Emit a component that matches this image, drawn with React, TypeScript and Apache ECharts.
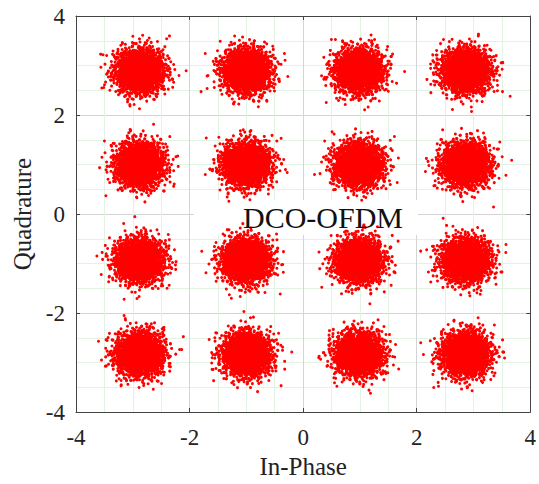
import React, { useEffect, useRef } from "react";
import * as echarts from "echarts";

// Constellation levels (16-QAM, DCO-OFDM)
const I_LEVELS = [-2.88, -1.0, 0.98, 2.86];
const Q_LEVELS = [2.89, 1.0, -0.94, -2.83];
// Spread of the received cloud around each symbol (std, axis units)
const NOISE_STD = [0.21, 0.22];
const POINTS_PER_SYMBOL = 2200;
const AXIS_TICKS = [-4, -2, 0, 2, 4];
const LABEL_TEXT = "DCO-OFDM";

// deterministic low-discrepancy sequence (no random numbers)
function halton(index: number, base: number): number {
  let f = 1;
  let r = 0;
  let i = index;
  while (i > 0) {
    f = f / base;
    r = r + f * (i % base);
    i = Math.floor(i / base);
  }
  return r;
}

function buildPoints(): number[][] {
  const pts: number[][] = [];
  let k = 0;
  for (let qi = 0; qi < Q_LEVELS.length; qi++) {
    for (let ii = 0; ii < I_LEVELS.length; ii++) {
      for (let n = 0; n < POINTS_PER_SYMBOL; n++) {
        const idx = k * POINTS_PER_SYMBOL + n + 1;
        const u1 = Math.max(halton(idx, 2), 1e-6);
        const u2 = halton(idx, 3);
        const u3 = halton(idx, 5);
        const rad = Math.sqrt(-2 * Math.log(u1));
        const th = 2 * Math.PI * (u2 + 0.37 * u3);
        pts.push([
          I_LEVELS[ii] + NOISE_STD[0] * rad * Math.cos(th),
          Q_LEVELS[qi] + NOISE_STD[1] * rad * Math.sin(th),
        ]);
      }
      k++;
    }
  }
  return pts;
}

const SERIF = "Liberation Serif";

export default function App() {
  const ref = useRef<HTMLDivElement>(null);
  useEffect(() => {
    if (!ref.current) return;
    const chart = echarts.init(ref.current, undefined, { renderer: "svg" });
    const data = buildPoints();
    const axisCommon = {
      type: "value" as const,
      min: AXIS_TICKS[0],
      max: AXIS_TICKS[AXIS_TICKS.length - 1],
      interval: 2,
    };
    chart.setOption({
      animation: false,
      backgroundColor: "#ffffff",
      grid: { left: 76, right: 7, top: 16, bottom: 65 },
      xAxis: [
        {
          ...axisCommon,
          position: "bottom",
          name: "In-Phase",
          nameLocation: "middle",
          nameGap: 42,
          nameTextStyle: { fontFamily: SERIF, fontSize: 25, color: "#222" },
          axisLine: { show: true, onZero: false, lineStyle: { color: "#444", width: 1 } },
          axisTick: { show: true, inside: true, length: 4, lineStyle: { color: "#444" } },
          axisLabel: { fontFamily: SERIF, fontSize: 23, color: "#222", margin: 14 },
          splitLine: { show: true, lineStyle: { color: "#d4d4d4", width: 1 } },
          minorTick: { show: false, splitNumber: 4 },
          minorSplitLine: { show: true, lineStyle: { color: "#e3f3e3", width: 1 } },
        },
        {
          ...axisCommon,
          position: "top",
          axisLine: { show: true, onZero: false, lineStyle: { color: "#444", width: 1 } },
          axisTick: { show: true, inside: true, length: 4, lineStyle: { color: "#444" } },
          axisLabel: { show: false },
          splitLine: { show: false },
        },
      ],
      yAxis: [
        {
          ...axisCommon,
          position: "left",
          name: "Quadrature",
          nameLocation: "middle",
          nameGap: 40,
          nameTextStyle: { fontFamily: SERIF, fontSize: 25, color: "#222" },
          axisLine: { show: true, onZero: false, lineStyle: { color: "#444", width: 1 } },
          axisTick: { show: true, inside: true, length: 4, lineStyle: { color: "#444" } },
          axisLabel: { fontFamily: SERIF, fontSize: 23, color: "#222", margin: 11 },
          splitLine: { show: true, lineStyle: { color: "#d4d4d4", width: 1 } },
          minorTick: { show: false, splitNumber: 4 },
          minorSplitLine: { show: true, lineStyle: { color: "#e3f3e3", width: 1 } },
        },
        {
          ...axisCommon,
          position: "right",
          axisLine: { show: true, onZero: false, lineStyle: { color: "#444", width: 1 } },
          axisTick: { show: true, inside: true, length: 4, lineStyle: { color: "#444" } },
          axisLabel: { show: false },
          splitLine: { show: false },
        },
      ],
      graphic: [
        {
          type: "rect",
          z: 1,
          shape: { x: 194, y: 200, width: 224, height: 35 },
          style: { fill: "#ffffff" },
        },
        {
          type: "text",
          z: 100,
          x: 243,
          y: 202,
          style: {
            text: LABEL_TEXT,
            fontFamily: SERIF,
            fontSize: 30,
            fill: "#111",
          },
        },
      ],
      series: [
        {
          type: "scatter",
          data,
          symbol: "circle",
          symbolSize: 3,
          large: false,
          progressive: 0,
          progressiveThreshold: 1000000,
          itemStyle: { color: "#ff0000", opacity: 1 },
          silent: true,
          z: 2,
        },
      ],
    });
    return () => chart.dispose();
  }, []);
  return <div ref={ref} style={{ width: 539, height: 484, position: "absolute", left: 0, top: 0 }} />;
}
